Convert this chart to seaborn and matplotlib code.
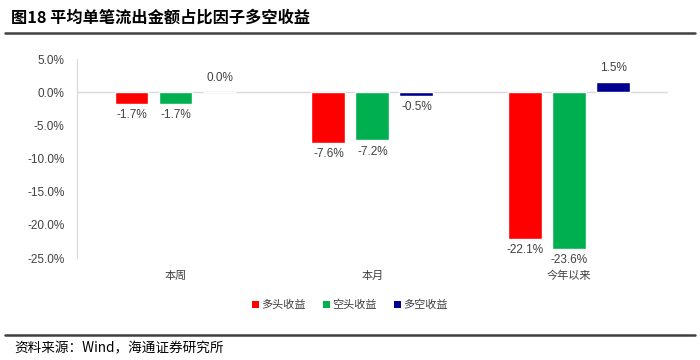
import pandas as pd
import matplotlib
matplotlib.use("Agg")
import matplotlib.pyplot as plt
import seaborn as sns
from matplotlib.lines import Line2D
from matplotlib.patches import Patch

# data (%)
periods = ["本周", "本月", "今年以来"]
series = ["多头收益", "空头收益", "多空收益"]
long_ret = [-1.7, -7.6, -22.1]
short_ret = [-1.7, -7.2, -23.6]
ls_ret = [0.0, -0.5, 1.5]
colors = ["#FF0000", "#00B050", "#000090"]

rows = []
for i, p in enumerate(periods):
    for s, vals in zip(series, [long_ret, short_ret, ls_ret]):
        rows.append({"period": p, "series": s, "value": vals[i]})
df = pd.DataFrame(rows)

sns.set_style("white")
plt.rcParams["font.family"] = ["Noto Sans CJK SC", "DejaVu Sans"]

fig = plt.figure(figsize=(7, 3.6), dpi=100)
ax = fig.add_axes([0.11, 0.283, 0.844, 0.553])

sns.barplot(data=df, x="period", y="value", hue="series", order=periods,
            hue_order=series, palette=colors, width=0.67, gap=0.23,
            saturation=1, legend=False, ax=ax)

# value labels
for cont in ax.containers:
    for bar in cont:
        v = bar.get_height()
        x = bar.get_x() + bar.get_width() / 2
        if v >= 0:
            ax.annotate(f"{v:.1f}%", (x, v), xytext=(0, 6), textcoords="offset points",
                        ha="center", va="bottom", fontsize=8.5, color="#404040",
                        family=["Liberation Sans", "DejaVu Sans"])
        else:
            ax.annotate(f"{v:.1f}%", (x, v), xytext=(0, -4), textcoords="offset points",
                        ha="center", va="top", fontsize=8.5, color="#404040",
                        family=["Liberation Sans", "DejaVu Sans"])

ax.set_ylim(-25, 5)
ax.set_xlim(-0.5, 2.5)
ax.set_yticks([5, 0, -5, -10, -15, -20, -25])
ax.set_yticklabels([f"{t:.1f}%" for t in [5, 0, -5, -10, -15, -20, -25]],
                   family=["Liberation Sans", "DejaVu Sans"])
ax.tick_params(axis="y", length=0, pad=9, labelsize=8.5, labelcolor="#404040")
ax.tick_params(axis="x", length=0, pad=9, labelsize=8, labelcolor="#404040")
ax.set_xlabel("")
ax.set_ylabel("")
for s in ["top", "right", "bottom"]:
    ax.spines[s].set_visible(False)
ax.spines["left"].set_color("#D9D9D9")
ax.axhline(0, color="#D9D9D9", lw=1, zorder=0)

handles = [Patch(facecolor=c, edgecolor="none") for c in colors]
fig.legend(handles, series, loc="center", bbox_to_anchor=(0.5, 0.153), ncol=3,
           frameon=False, fontsize=8, handlelength=0.6, handleheight=0.6,
           handletextpad=0.2, columnspacing=1.6, labelcolor="#404040")

# header / footer
fig.text(0.016, 0.95, "图18 平均单笔流出金额占比因子多空收益", fontsize=11.7,
         fontweight="bold", va="center", ha="left", color="#000000")
fig.add_artist(Line2D([0.007, 0.993], [0.908, 0.908], color="#404040", lw=1.8))
fig.add_artist(Line2D([0.007, 0.993], [0.07, 0.07], color="#404040", lw=1.8))
fig.text(0.021, 0.033, "资料来源：Wind，海通证券研究所", fontsize=9.8,
         va="center", ha="left", color="#000000")

plt.savefig("out.png", dpi=100)
